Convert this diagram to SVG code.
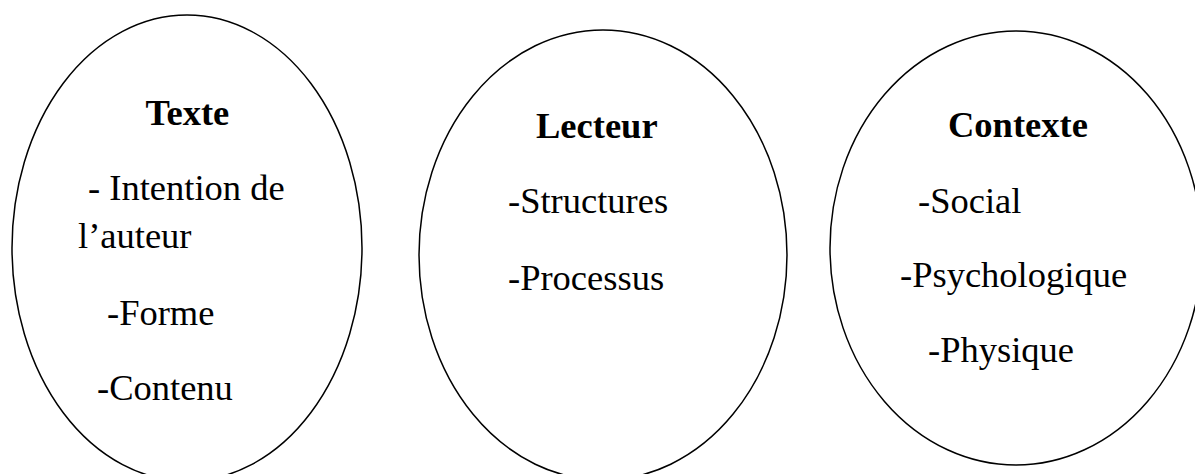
<svg xmlns="http://www.w3.org/2000/svg" width="1195" height="474" viewBox="0 0 1195 474">
<style>
.node ellipse{fill:#fff;stroke:#000;stroke-width:1.5}
text{font-family:"Liberation Serif","Times New Roman",serif;font-size:36.5px;fill:#000}
.t{font-weight:bold}
</style>
<rect width="1195" height="474" fill="#fff"/>
<g id="connectors"/>
<g id="texte" class="node">
<ellipse cx="187" cy="248" rx="175" ry="233"/>
<text class="t" x="145.5" y="125">Texte</text>
<text x="88" y="200">- Intention de</text>
<text x="78" y="248">l’auteur</text>
<text x="107" y="325">-Forme</text>
<text x="97" y="400">-Contenu</text>
</g>
<g id="lecteur" class="node">
<ellipse cx="603" cy="255" rx="184" ry="225"/>
<text class="t" x="536" y="138">Lecteur</text>
<text x="508" y="213">-Structures</text>
<text x="508" y="290">-Processus</text>
</g>
<g id="contexte" class="node">
<ellipse cx="1016" cy="248" rx="186" ry="217"/>
<text class="t" x="948" y="137">Contexte</text>
<text x="918" y="213">-Social</text>
<text x="900" y="287">-Psychologique</text>
<text x="928" y="362">-Physique</text>
</g>
</svg>
